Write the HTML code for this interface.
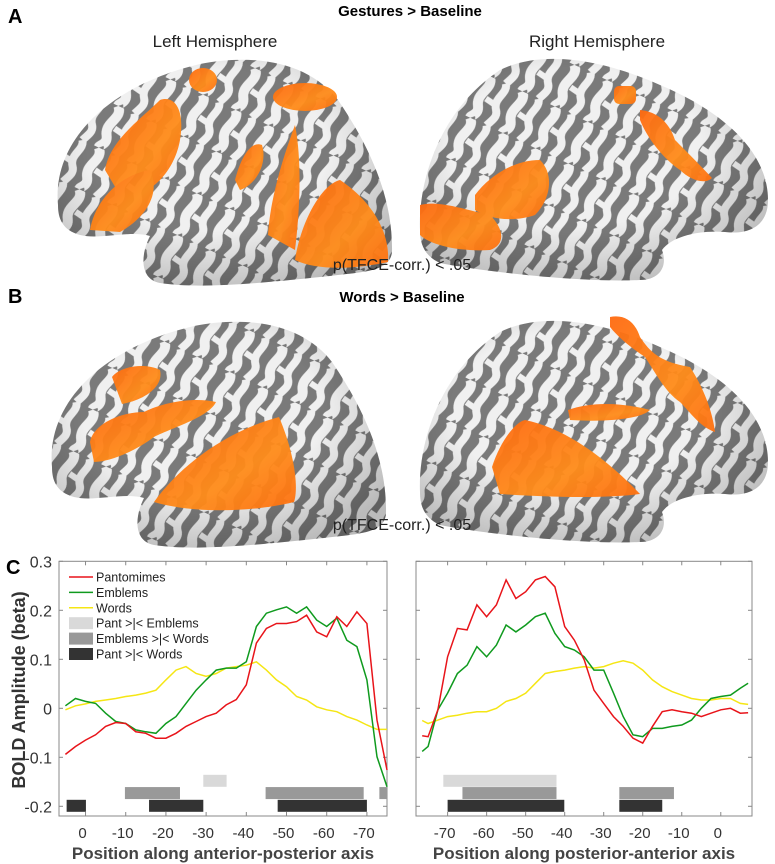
<!DOCTYPE html>
<html><head><meta charset="utf-8">
<style>
body{margin:0;background:#fff;}
svg{display:block;font-family:"Liberation Sans",sans-serif;}
</style></head>
<body>
<svg id="fig" width="775" height="864" viewBox="0 0 775 864">
<defs>
  <pattern id="sulci" width="36" height="46" patternUnits="userSpaceOnUse" patternTransform="rotate(25)">
    <rect width="36" height="46" fill="#7a7a7a"/>
    <path d="M8,0 C18,10 2,20 10,32 C15,40 6,44 8,46" stroke="#f0f0f0" stroke-width="10" fill="none"/>
    <path d="M26,0 C32,9 20,18 28,28 C33,34 28,40 26,46" stroke="#f0f0f0" stroke-width="8" fill="none"/>
    <path d="M14,22 L26,24" stroke="#f0f0f0" stroke-width="6"/>
  </pattern>
  <radialGradient id="shade" cx="0.45" cy="0.4" r="0.65">
    <stop offset="0.55" stop-color="#000" stop-opacity="0"/>
    <stop offset="1" stop-color="#000" stop-opacity="0.22"/>
  </radialGradient>
  <linearGradient id="orng" x1="0" y1="0" x2="1" y2="1">
    <stop offset="0" stop-color="#ff6a10"/>
    <stop offset="0.6" stop-color="#ff8c1a"/>
    <stop offset="1" stop-color="#ff7010"/>
  </linearGradient>
  <path id="lbrain" d="M58,205 C52,140 110,85 200,64 C262,52 312,66 338,100 C372,150 393,200 392,252 C390,272 362,272 330,276 C280,281 205,290 160,283 C140,279 140,256 150,236 C130,230 100,240 80,235 C62,230 58,218 58,205 Z"/>
  <path id="rbrain" d="M420,230 C418,180 440,110 500,70 C540,50 600,58 660,85 C720,110 768,150 768,200 C768,225 750,235 725,232 C700,230 672,236 662,250 C668,266 660,280 640,280 C580,283 480,271 440,263 C425,256 420,245 420,230 Z"/>
</defs>

<!-- Panel A -->
<text x="8" y="23" font-size="20" font-weight="bold">A</text>
<text x="410" y="16" font-size="15" font-weight="bold" text-anchor="middle">Gestures &gt; Baseline</text>
<text x="215" y="47" font-size="17" text-anchor="middle" fill="#222">Left Hemisphere</text>
<text x="597" y="47" font-size="17" text-anchor="middle" fill="#222">Right Hemisphere</text>
<g>
  <use href="#lbrain" fill="url(#sulci)"/><use href="#lbrain" fill="url(#shade)"/>
  <g fill="url(#orng)" opacity="0.95">
    <path d="M105,170 C110,140 140,120 160,100 C175,95 185,110 180,140 C175,170 150,200 120,195 Z"/>
    <path d="M90,230 C95,200 120,175 150,170 C160,190 150,215 120,232 Z"/>
    <ellipse cx="203" cy="80" rx="14" ry="12"/>
    <path d="M235,180 C240,160 250,140 262,145 C268,165 255,185 240,190 Z"/>
    <path d="M268,235 C270,200 282,160 295,125 C302,160 300,210 295,250 Z"/>
    <ellipse cx="305" cy="97" rx="32" ry="14"/>
    <path d="M295,260 C300,225 320,185 340,180 C370,200 390,230 388,262 C360,268 320,272 295,260 Z"/>
  </g>
</g>
<g>
  <use href="#rbrain" fill="url(#sulci)"/><use href="#rbrain" fill="url(#shade)"/>
  <g fill="url(#orng)" opacity="0.95">
    <path d="M420,205 C440,200 465,210 490,215 C505,230 505,245 490,250 C460,252 430,245 420,235 Z"/>
    <path d="M475,195 C490,175 515,160 540,160 C555,175 550,200 535,215 C515,222 490,220 475,210 Z"/>
    <rect x="614" y="86" width="22" height="18" rx="5"/>
    <path d="M640,110 C660,112 670,125 675,140 C685,150 700,165 712,178 C705,185 690,180 680,170 C665,160 648,140 640,120 Z"/>
  </g>
</g>
<text x="402" y="270" font-size="16" text-anchor="middle" fill="#222">p(TFCE-corr.) &lt; .05</text>

<!-- Panel B -->
<text x="8" y="303" font-size="20" font-weight="bold">B</text>
<text x="402" y="302" font-size="15" font-weight="bold" text-anchor="middle">Words &gt; Baseline</text>
<g transform="translate(-6,262)">
  <use href="#lbrain" fill="url(#sulci)"/><use href="#lbrain" fill="url(#shade)"/>
  <g fill="url(#orng)" opacity="0.95">
    <path d="M118,115 C125,105 150,100 166,108 C170,125 150,138 128,142 Z"/>
    <path d="M96,180 C100,160 130,150 150,150 C170,140 200,135 222,140 C215,155 180,165 160,175 C140,190 115,200 100,200 Z"/>
    <path d="M160,240 C185,205 230,170 285,155 C300,190 305,225 300,240 C260,250 200,252 160,240 Z"/>
  </g>
</g>
<g transform="translate(0,262)">
  <use href="#rbrain" fill="url(#sulci)"/><use href="#rbrain" fill="url(#shade)"/>
  <g fill="url(#orng)" opacity="0.95">
    <path d="M492,205 C500,180 515,160 525,158 C560,165 600,190 640,232 C610,236 560,236 500,232 Z"/>
    <path d="M568,148 C590,140 620,140 650,148 C640,158 600,160 570,158 Z"/>
    <path d="M610,55 C625,52 635,60 640,75 C650,90 660,100 690,105 C700,120 712,145 715,170 C700,165 690,150 680,140 C665,130 655,110 645,95 C630,85 618,75 610,65 Z"/>
  </g>
</g>
<text x="402" y="530" font-size="16" text-anchor="middle" fill="#222">p(TFCE-corr.) &lt; .05</text>

<!-- Panel C -->
<text x="6" y="574" font-size="20" font-weight="bold">C</text>
<text transform="translate(25,690) rotate(-90)" font-size="18" font-weight="bold" fill="#333" text-anchor="middle">BOLD Amplitude (beta)</text>
<g id="leftChart"></g>
<g id="rightChart"></g>
<text x="223" y="859" font-size="17" font-weight="bold" fill="#444" text-anchor="middle">Position along anterior-posterior axis</text>
<text x="584" y="859" font-size="17" font-weight="bold" fill="#444" text-anchor="middle">Position along posterior-anterior axis</text>
</svg>
<script>
const NS = "http://www.w3.org/2000/svg";
// ---- Left panel data ----
const leftX = [5,2.5,0,-2.5,-5,-7.5,-10,-12.5,-15,-17.5,-20,-22.5,-25,-27.5,-30,-32.5,-35,-37.5,-40,-42.5,-45,-47.5,-50,-52.5,-55,-57.5,-60,-62.5,-65,-67.5,-70,-72.5,-75];
const leftPant = [-0.094,-0.078,-0.065,-0.054,-0.037,-0.029,-0.031,-0.048,-0.051,-0.061,-0.061,-0.051,-0.037,-0.027,-0.017,-0.010,0.007,0.018,0.048,0.133,0.163,0.173,0.173,0.177,0.190,0.156,0.146,0.187,0.167,0.197,0.173,-0.024,-0.126];
const leftEmb = [0.005,0.020,0.014,0.010,-0.010,-0.027,-0.031,-0.044,-0.048,-0.051,-0.031,-0.017,0.010,0.037,0.058,0.078,0.082,0.082,0.095,0.167,0.194,0.201,0.207,0.194,0.207,0.180,0.167,0.184,0.139,0.126,0.058,-0.099,-0.160];
const leftWords = [-0.003,0.005,0.009,0.014,0.017,0.020,0.024,0.027,0.031,0.037,0.058,0.078,0.085,0.071,0.065,0.071,0.082,0.085,0.088,0.095,0.078,0.058,0.044,0.024,0.017,0.003,-0.003,-0.007,-0.017,-0.024,-0.034,-0.043,-0.043];
const leftPantEmbSig = [[-29.3,-35.1]];
const leftEmbWordsSig = [[-9.8,-23.5],[-44.8,-69.2],[-73.1,-75]];
const leftPantWordsSig = [[4.7,-0.1],[-15.8,-29.3],[-47.8,-70]];
const leftTicks = [0,-10,-20,-30,-40,-50,-60,-70];
// ---- Right panel data ----
const rightX = [-76.5,-75,-72.5,-70,-67.5,-65,-62.5,-60,-57.5,-55,-52.5,-50,-47.5,-45,-42.5,-40,-37.5,-35,-32.5,-30,-27.5,-25,-22.5,-20,-17.5,-15,-12.5,-10,-7.5,-5,-2.5,0,2.5,5,7];
const rightPant = [-0.056,-0.058,-0.003,0.105,0.163,0.160,0.211,0.187,0.211,0.262,0.224,0.238,0.262,0.269,0.248,0.167,0.139,0.099,0.037,0.010,-0.017,-0.037,-0.061,-0.071,-0.037,-0.007,-0.003,-0.007,-0.010,-0.017,-0.010,-0.003,0.000,-0.010,-0.009];
const rightEmb = [-0.088,-0.078,-0.003,0.031,0.071,0.088,0.126,0.105,0.129,0.170,0.156,0.170,0.187,0.194,0.153,0.126,0.119,0.105,0.078,0.078,0.031,-0.017,-0.054,-0.058,-0.041,-0.041,-0.037,-0.034,-0.024,0.000,0.020,0.024,0.027,0.041,0.051];
const rightWords = [-0.025,-0.031,-0.024,-0.017,-0.014,-0.010,-0.007,-0.007,0.000,0.014,0.020,0.031,0.051,0.071,0.075,0.078,0.082,0.085,0.082,0.085,0.092,0.097,0.092,0.078,0.058,0.044,0.034,0.027,0.020,0.017,0.017,0.020,0.020,0.010,0.008];
const rightPantEmbSig = [[-71.1,-42.1]];
const rightEmbWordsSig = [[-66.2,-42.1],[-26,-12]];
const rightPantWordsSig = [[-70,-40.1],[-26,-15]];
const rightTicks = [-70,-60,-50,-40,-30,-20,-10,0];
const yTicks = [0.3,0.2,0.1,0,-0.1,-0.2];
const yTickLabels = ["0.3","0.2","0.1","0","-0.1","-0.2"];
const sigRows = [-0.148,-0.173,-0.199];
const legendLabels = ["Pantomimes","Emblems","Words","Pant >|< Emblems","Emblems >|< Words","Pant >|< Words"];

const TOP=561.3, BOT=816, Y0=708.3, YPER=490;
function yScale(v){ return Y0 - v*YPER; }
function mk(tag, attrs, parent){ const e=document.createElementNS(NS,tag); for(const k in attrs) e.setAttribute(k,attrs[k]); parent.appendChild(e); return e; }

function drawPanel(g, left, right, xL, xR, xs, series, sigs, ticks, showY, showLegend){
  const xScale = v => left + (v - xL)/(xR - xL)*(right-left);
  const box = mk('rect',{x:left,y:TOP,width:right-left,height:BOT-TOP,fill:'none',stroke:'#888','stroke-width':1},g);
  
  
  ticks.forEach(t=>{
    const x=xScale(t);
    mk('line',{x1:x,y1:BOT,x2:x,y2:BOT-4,stroke:'#888'},g);
    mk('line',{x1:x,y1:TOP,x2:x,y2:TOP+4,stroke:'#888'},g);
    const lb=mk('text',{x:x-3,y:BOT+22,'font-size':15,fill:'#333','text-anchor':'middle'},g);
    lb.textContent=String(t);
    
    
  });
  yTicks.forEach((t,i)=>{
    const y=yScale(t);
    mk('line',{x1:left,y1:y,x2:left+4,y2:y,stroke:'#888'},g);
    mk('line',{x1:right,y1:y,x2:right-4,y2:y,stroke:'#888'},g);
    if(showY){
      const lb=mk('text',{x:left-7,y:y+6,'font-size':16,fill:'#333','text-anchor':'end'},g);
      lb.textContent=yTickLabels[i];
      
      
    }
  });
  const sigColors=['#d9d9d9','#999999','#333333'];
  sigs.forEach((arr,ri)=>{
    arr.forEach(seg=>{
      const x1=xScale(seg[0]), x2=xScale(seg[1]);
      const r=mk('rect',{x:Math.min(x1,x2),y:yScale(sigRows[ri])-6,width:Math.abs(x2-x1),height:12,fill:sigColors[ri]},g);
      
      
    });
  });
  const cols=['#e8141a','#0f9a1e','#f5e614'];
  const names=['pantomimes-line','emblems-line','words-line'];
  [2,1,0].forEach(si=>{
    const d=xs.map((x,i)=>(i?'L':'M')+xScale(x).toFixed(1)+','+yScale(series[si][i]).toFixed(1)).join(' ');
    const p=mk('path',{d:d,fill:'none',stroke:cols[si],'stroke-width':1.5},g);
    
    
  });
  if(showLegend){
    const lg=mk('g',{},g);
    
    
    legendLabels.forEach((lab,i)=>{
      const y=577+i*15.4;
      if(i<3){ mk('line',{x1:69,y1:y,x2:93,y2:y,stroke:cols[i],'stroke-width':1.5},lg); }
      else { mk('rect',{x:69,y:y-6,width:24,height:12,fill:sigColors[i-3]},lg); }
      const t=mk('text',{x:96,y:y+4.5,'font-size':12.5,fill:'#222'},lg);
      t.textContent=lab;
      
      
    });
  }
}
drawPanel(document.getElementById('leftChart'),59,387,6.6,-75,leftX,[leftPant,leftEmb,leftWords],[leftPantEmbSig,leftEmbWordsSig,leftPantWordsSig],leftTicks,true,true);
drawPanel(document.getElementById('rightChart'),416,752,-78.1,8.0,rightX,[rightPant,rightEmb,rightWords],[rightPantEmbSig,rightEmbWordsSig,rightPantWordsSig],rightTicks,false,false);
</script>
</body></html>
